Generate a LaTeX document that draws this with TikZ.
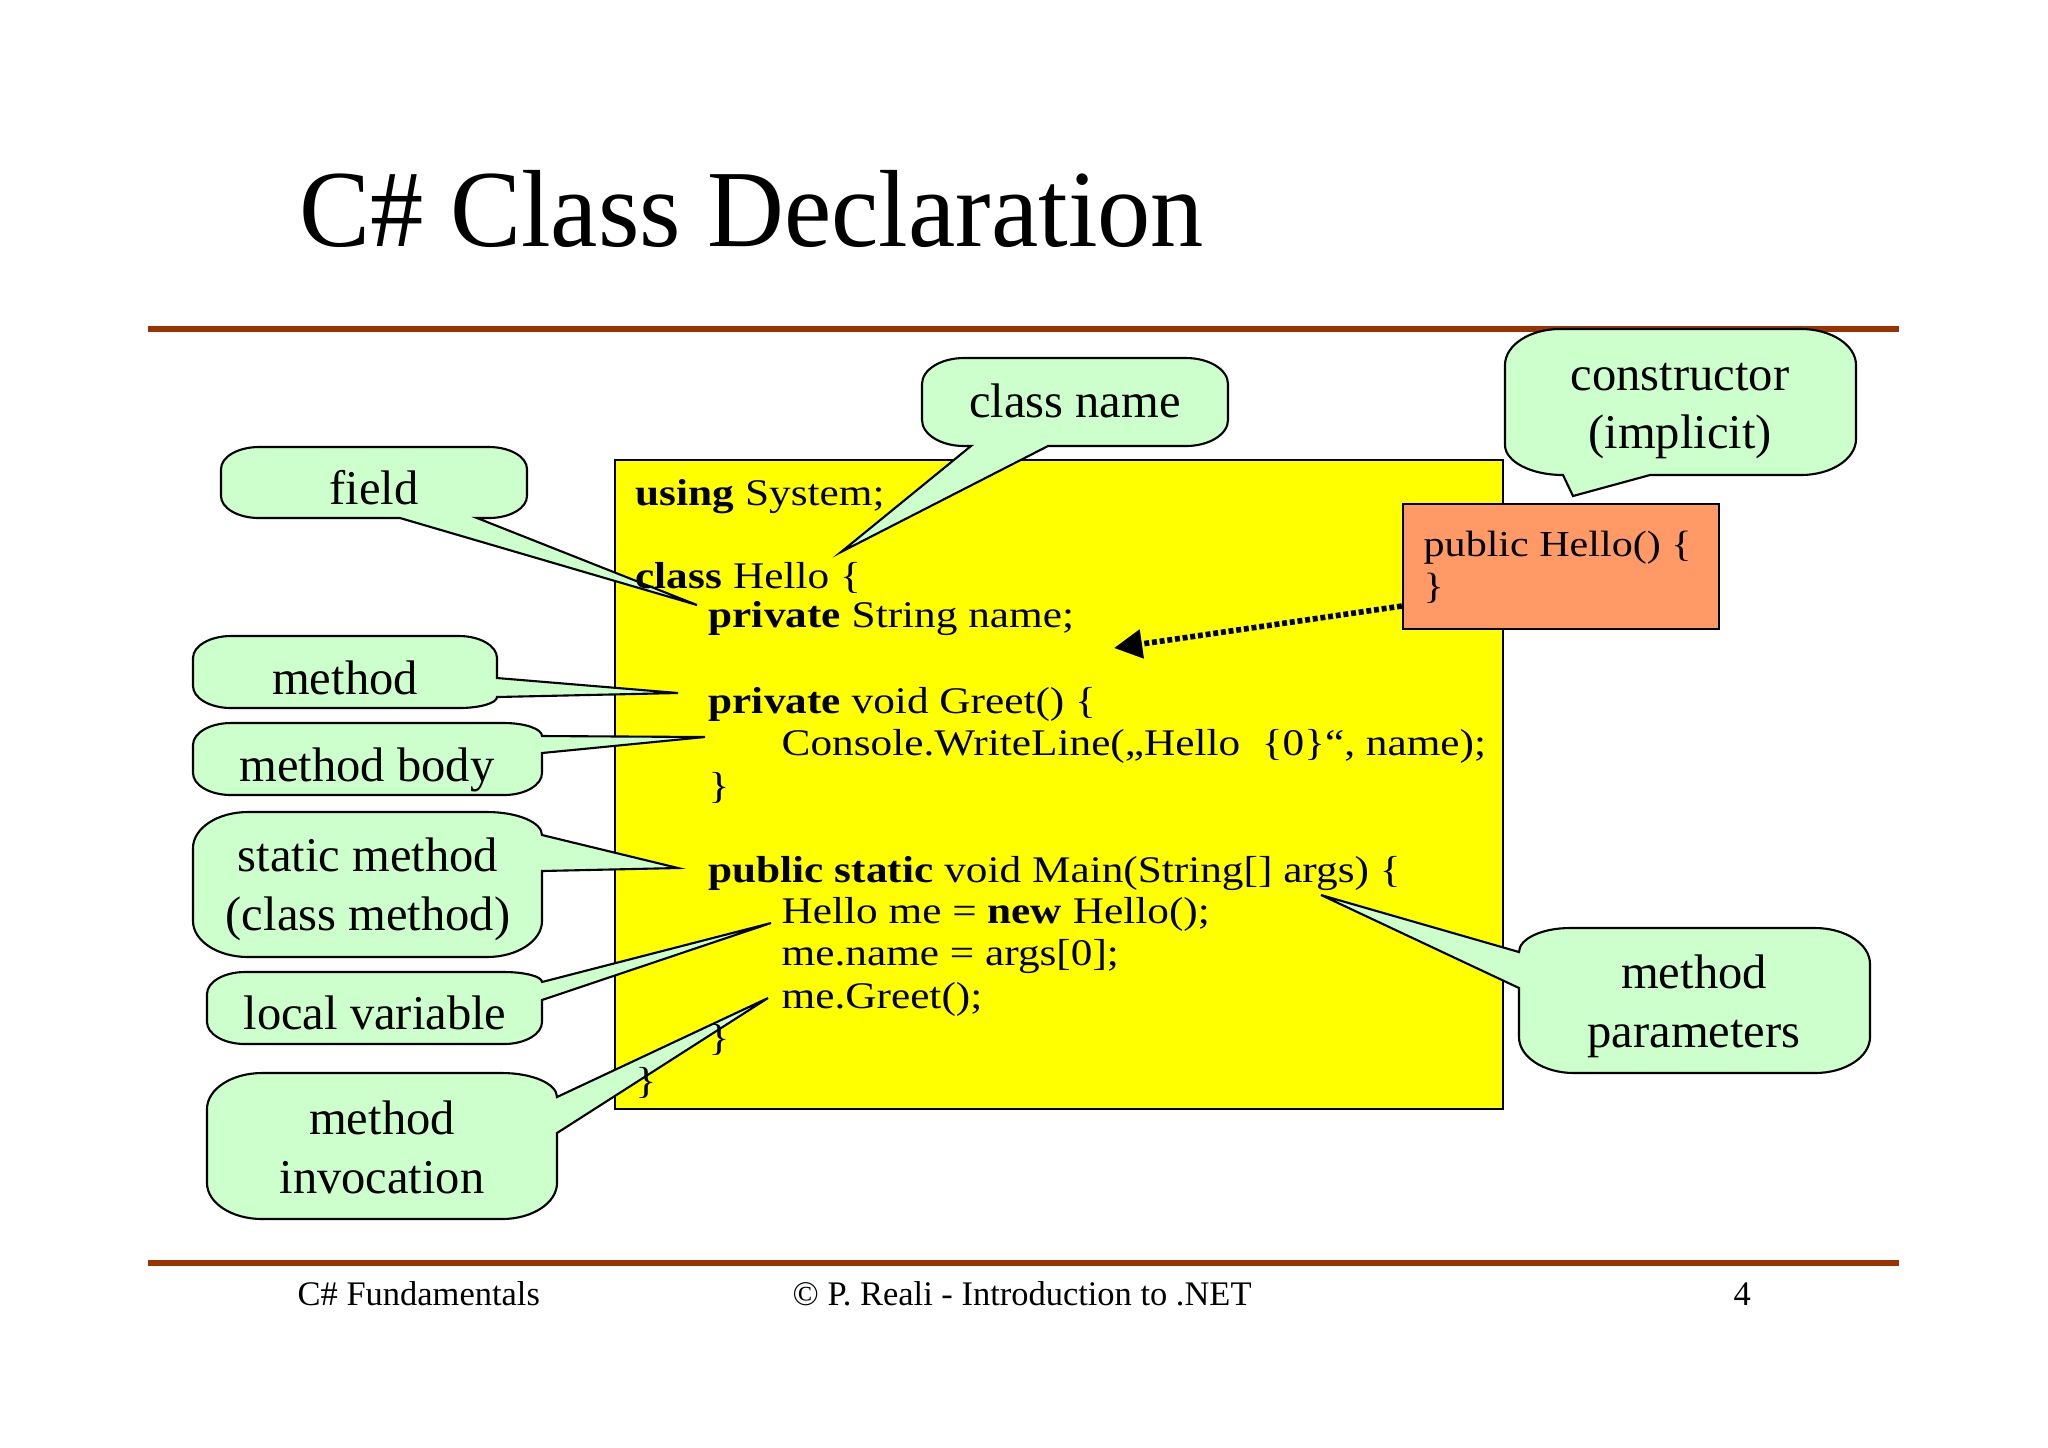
\documentclass[tikz,border=0pt]{standalone}
\usepackage{fontspec}
\setmainfont{Liberation Serif}
\newfontfamily\codefont{Liberation Serif}[FakeStretch=1.15]
\newfontfamily\titlefont{Liberation Serif}[FakeStretch=0.97]
\usetikzlibrary{arrows.meta}
\definecolor{callfill}{HTML}{CCFFCC}
\definecolor{rulecol}{HTML}{993300}
\definecolor{codefill}{HTML}{FFFF00}
\definecolor{ctorfill}{HTML}{FF9966}
% corner: from A(#1,#2) around corner C(#3,#4) to B(#5,#6)
\newcommand\crn[6]{-- (#1,#2) .. controls ({#1+0.552*(#3-#1)},{#2+0.552*(#4-#2)}) and ({#5+0.552*(#3-#5)},{#6+0.552*(#4-#6)}) .. (#5,#6)}
\tikzset{
  callbox/.style={draw=black, fill=callfill, line width=0.6pt, line join=miter},
  calltext/.style={font=\fontsize{13.8}{16}\selectfont, inner sep=0pt, anchor=base},
  codetext/.style={font=\codefont\fontsize{10.7}{12}\selectfont, inner sep=0pt, anchor=base west},
  ctortext/.style={font=\codefont\fontsize{10.4}{12}\selectfont, inner sep=0pt, anchor=base west},
  foottext/.style={font=\fontsize{9.8}{12}\selectfont, inner sep=0pt, anchor=base west},
  rulestyle/.style={draw=rulecol, line width=1.7pt},
  dotarrow/.style={line width=1.6pt, dash pattern=on 1.4pt off 0.8pt, -{Triangle[length=8pt,width=8pt]}},
}
\begin{document}
\begin{tikzpicture}[x=0.01cm,y=-0.01cm]
\useasboundingbox (0,0) rectangle (2048,1447);
\fill[white] (0,0) rectangle (2048,1447);
% rules
\draw[rulestyle] (148,329) -- (1899,329);
\draw[rulestyle] (148,1263) -- (1899,1263);
% title
\node[font=\titlefont\fontsize{31.2}{36}\selectfont, inner sep=0pt, anchor=base west] (title) at (299,246) {C\# Class Declaration};
% footer
\node[foottext] (foot1) at (297,1305) {C\# Fundamentals};
\node[foottext] (foot2) at (792,1305) {© P. Reali - Introduction to .NET};
\node[foottext] (foot3) at (1733,1305) {4};
% code box
\node[draw=black, fill=codefill, line width=0.5pt, minimum width=8.88cm, minimum height=6.49cm, inner sep=0pt] (code) at (1059,784.5) {};
% callouts
\draw[callbox] (259,447) \crn{489}{447}{527}{447}{527}{469} \crn{527}{496}{527}{518}{489}{518} -- (477,518) -- (697,605) -- (400,518) \crn{259}{518}{221}{518}{221}{496} \crn{221}{469}{221}{447}{259}{447} -- cycle;
\draw[callbox] (231,636) \crn{459}{636}{497}{636}{497}{658} -- (497,678) -- (678,693) -- (497,697) \crn{497}{697}{497}{708}{459}{708} \crn{231}{708}{193}{708}{193}{686} \crn{193}{658}{193}{636}{231}{636} -- cycle;
\draw[callbox] (231,723) \crn{504}{723}{542}{723}{542}{736} -- (705,737) -- (542,753) \crn{542}{773}{542}{795}{504}{795} \crn{231}{795}{193}{795}{193}{773} \crn{193}{745}{193}{723}{231}{723} -- cycle;
\draw[callbox] (248,812) \crn{487}{812}{542}{812}{542}{835} -- (678,868) -- (542,871) \crn{542}{921}{542}{957}{487}{957} \crn{248}{957}{193}{957}{193}{921} \crn{193}{848}{193}{812}{248}{812} -- cycle;
\draw[callbox] (245,972) \crn{504}{972}{542}{972}{542}{982} -- (771,923) -- (542,1000) \crn{542}{1022}{542}{1044}{504}{1044} \crn{245}{1044}{207}{1044}{207}{1022} \crn{207}{994}{207}{972}{245}{972} -- cycle;
\draw[callbox] (262,1073) \crn{502}{1073}{557}{1073}{557}{1097} -- (768,998) -- (557,1133) \crn{557}{1183}{557}{1219}{502}{1219} \crn{262}{1219}{207}{1219}{207}{1183} \crn{207}{1109}{207}{1073}{262}{1073} -- cycle;
\draw[callbox] (964,358) \crn{1186}{358}{1228}{358}{1228}{384} \crn{1228}{420}{1228}{446}{1186}{446} -- (1048,446) -- (841,552) -- (971,446) \crn{964}{446}{922}{446}{922}{420} \crn{922}{384}{922}{358}{964}{358} -- cycle;
\draw[callbox] (1560,329) \crn{1801}{329}{1856}{329}{1856}{365} \crn{1856}{439}{1856}{475}{1801}{475} -- (1650,475) -- (1573,496) -- (1563,475) \crn{1563}{475}{1505}{475}{1505}{445} \crn{1505}{365}{1505}{329}{1560}{329} -- cycle;
\draw[callbox] (1570,928) \crn{1815}{928}{1870}{928}{1870}{964} \crn{1870}{1037}{1870}{1073}{1815}{1073} \crn{1574}{1073}{1519}{1073}{1519}{1037} -- (1519,988) -- (1321,895) -- (1519,952) \crn{1519}{952}{1519}{928}{1570}{928} -- cycle;
% callout texts
\node[calltext] (tfield) at (374,504) {field};
\node[calltext] (tmethod) at (345,694) {method};
\node[calltext] (tbody) at (367,781) {method body};
\node[calltext] (tstatA) at (368,871) {static method};
\node[calltext] (tstatB) at (368,930) {(class method)};
\node[calltext] (tlocal) at (375,1029) {local variable};
\node[calltext] (tinvA) at (382,1134) {method};
\node[calltext] (tinvB) at (382,1193) {invocation};
\node[calltext] (tclass) at (1075,417) {class name};
\node[calltext] (tctorA) at (1680,390) {constructor};
\node[calltext] (tctorB) at (1680,448) {(implicit)};
\node[calltext] (tparA) at (1694,988) {method};
\node[calltext] (tparB) at (1694,1047) {parameters};
% code text
\node[codetext] (c1) at (635,505) {\textbf{using} System;};
\node[codetext] (c2) at (635,588) {\textbf{class} Hello \{};
\node[codetext] (c3) at (708,627) {\textbf{private} String name;};
\node[codetext] (c4) at (708,713) {\textbf{private} void Greet() \{};
\node[codetext] (c5) at (781,755) {Console.WriteLine(„Hello\ \ \{0\}“, name);};
\node[codetext] (c6) at (708,798) {\}};
\node[codetext] (c7) at (708,882) {\textbf{public static} void Main(String[] args) \{};
\node[codetext] (c8) at (781,923) {Hello me = \textbf{new} Hello();};
\node[codetext] (c9) at (781,965) {me.name = args[0];};
\node[codetext] (c10) at (781,1008) {me.Greet();};
\node[codetext] (c11) at (708,1050) {\}};
\node[codetext] (c12) at (635,1093) {\}};
% constructor box
\node[draw=black, fill=ctorfill, line width=0.6pt, minimum width=3.16cm, minimum height=1.25cm, inner sep=0pt] (ctor) at (1561,566.5) {};
\node[ctortext] (ctorA) at (1423,556) {public Hello() \{};
\node[ctortext] (ctorB) at (1423,598) {\}};
\coordinate (arrtip) at (1114,648);
\draw[dotarrow] ([yshift=-0.395cm]ctor.west) -- (arrtip);
\end{tikzpicture}
\end{document}
